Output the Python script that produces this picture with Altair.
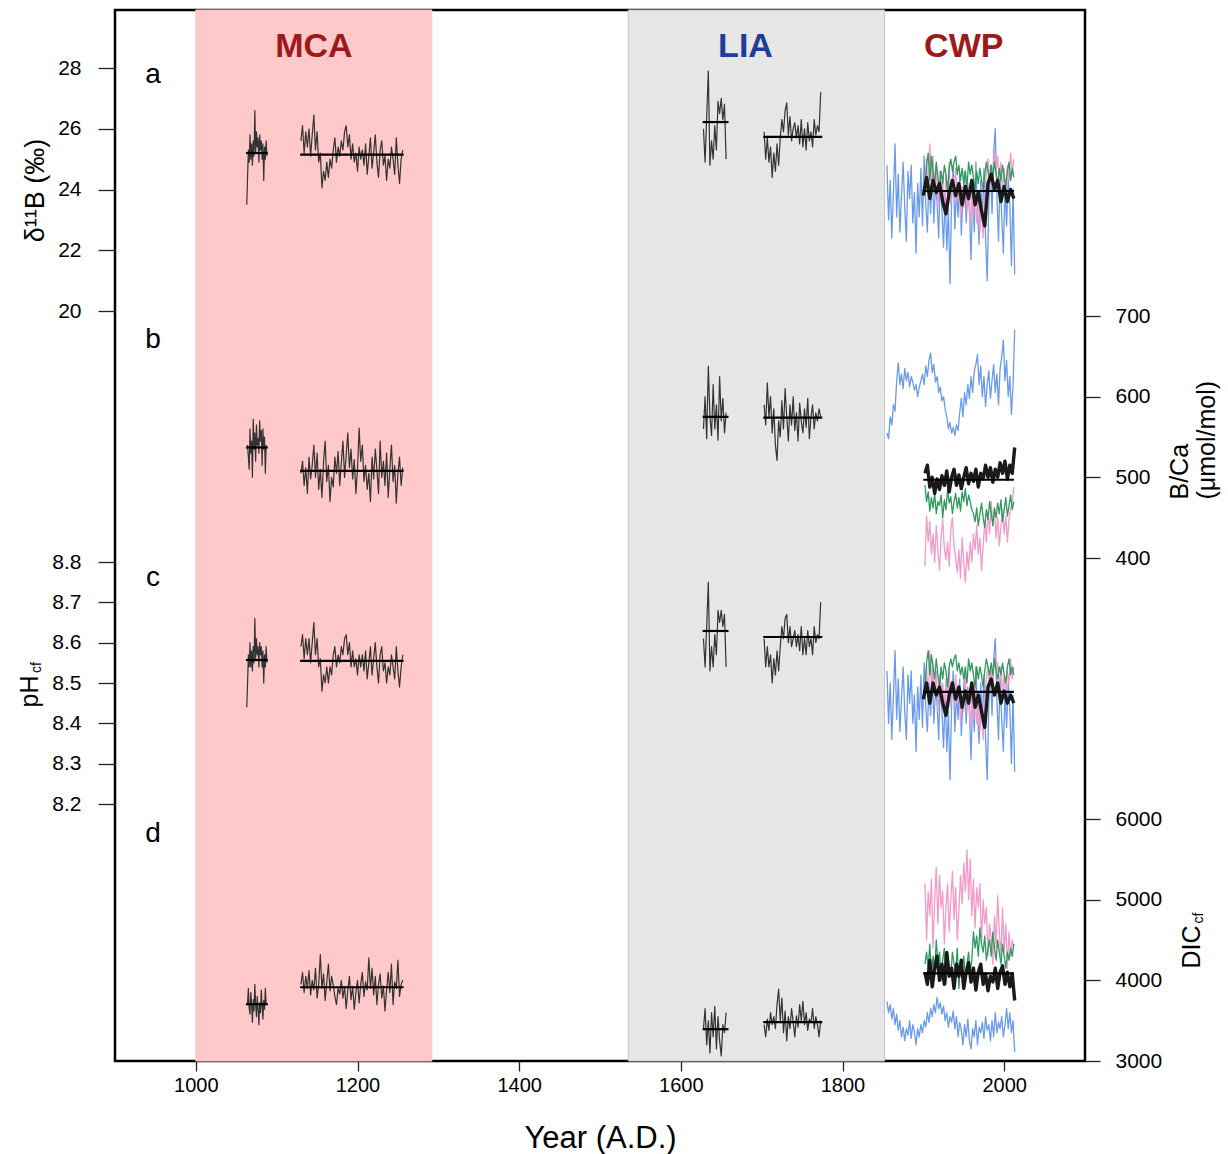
import altair as alt
import pandas as pd

FONT = "Liberation Sans"

# ---------------- x axis / periods ----------------
year_ticks = [1000, 1200, 1400, 1600, 1800, 2000]
period_start = [1000, 1535]
period_end = [1292, 1852]
period_fill = ["#FFC9C9", "#E6E6E6"]
period_stroke = ["#FFC9C9", "#C6C6C6"]

period_label = ["MCA", "LIA", "CWP"]
period_label_year = [1146, 1680, 1950]
period_label_color = ["#9E1A1A", "#1F3D99", "#9E1A1A"]
period_label_value = [28.69, 28.69, 28.69]

letter_year = 947
letter_value = {"a": 27.77, "b": 670, "c": 8.76, "d": 5815}

# segment mean lines
seg_x1 = [1062, 1129, 1627, 1702, 1900]
seg_x2 = [1089, 1257, 1659, 1775, 2012]
mean_d11b = [25.2, 25.15, 26.22, 25.73, 23.95]
mean_bca = [537, 508, 575, 574, 497]
mean_ph = [8.557, 8.555, 8.629, 8.614, 8.478]
mean_dic = [3704, 3914, 3394, 3481, 4086]

# ---------------- panel a: d11B ----------------
d11b_mca1 = [23.5, 24.4, 25.3, 24.9, 25.8, 25.0, 25.5, 24.8, 25.6, 25.1, 26.6, 25.2, 25.9,
             25.4, 25.7, 24.9, 25.8, 25.3, 25.6, 25.0, 25.5, 24.3, 25.4, 25.0, 25.6, 25.1]
d11b_mca2 = [25.6, 26.1, 25.2, 25.9, 25.4, 26.0, 25.1, 25.8, 26.45, 25.3, 25.9, 24.9, 25.2,
             24.05, 24.6, 24.3, 24.9, 24.4, 25.0, 24.7, 25.3, 25.7, 24.9, 25.4, 25.1, 25.6,
             25.3, 25.9, 26.1, 25.4, 25.8, 25.0, 25.5, 24.9, 25.2, 24.6, 25.4, 25.0, 25.3,
             24.8, 25.5, 24.5, 25.1, 25.7, 24.7, 25.2, 25.8, 24.9, 24.4, 25.3, 25.6, 24.8,
             25.1, 24.3, 25.0, 24.7, 25.4, 25.0, 24.5, 25.7, 24.8, 24.2, 25.0, 25.3]
d11b_lia1 = [26.0, 24.9, 26.4, 27.9, 24.8, 25.6, 25.0, 26.1, 25.3, 26.9, 26.5, 27.0, 26.3, 26.8, 25.0]
d11b_lia2 = [25.9, 25.0, 25.7, 24.9, 25.4, 24.4, 25.2, 24.6, 25.5, 24.8, 25.7, 26.3, 25.9,
             26.6, 26.85, 25.8, 26.4, 25.6, 26.0, 26.2, 25.7, 26.1, 25.5, 26.3, 25.4, 26.0,
             25.3, 26.2, 25.6, 25.9, 25.4, 26.3, 25.8, 26.1, 25.9, 27.2]
d11b_blue = [24.8, 23.0, 24.3, 22.4, 23.9, 25.5, 23.1, 24.5, 22.6, 23.8, 24.9, 23.4, 22.3,
             24.6, 23.7, 24.8, 22.9, 23.9, 21.9, 24.2, 23.1, 24.7, 22.8, 25.1, 23.5, 22.6,
             24.4, 23.2, 24.9, 22.9, 24.1, 23.6, 22.4, 24.6, 23.3, 22.1, 23.9, 22.0, 23.4,
             20.9, 23.7, 24.8, 22.7, 24.0, 23.1, 24.5, 22.5, 23.8, 24.6, 22.9, 24.2, 23.3,
             21.7, 24.0, 22.6, 24.9, 23.4, 22.2, 24.3, 23.0, 24.7, 22.4, 21.0, 23.6, 24.8,
             23.2, 25.2, 26.0, 23.8, 22.3, 24.5, 23.1, 21.9, 24.1, 22.8, 24.4, 23.5, 21.5,
             24.0, 21.2]
d11b_black = [23.8, 24.4, 23.7, 24.3, 23.9, 24.2, 23.6, 23.2, 23.9, 24.3, 23.8, 24.2, 23.5,
              24.1, 23.7, 24.3, 23.5, 23.9, 23.3, 22.8, 24.2, 24.5, 24.0, 24.3, 23.6, 24.1,
              23.6, 24.0, 23.7]
d11b_green = [24.0, 24.8, 25.2, 24.3, 25.1, 24.6, 24.2, 24.9, 24.4, 24.0, 24.6, 24.2, 24.8,
              24.5, 23.9, 24.7, 25.0, 24.6, 24.9, 25.1, 24.5, 24.8, 24.3, 24.7, 24.2, 24.6,
              24.1, 24.9, 24.5, 24.8, 24.4, 24.0, 24.6, 24.2, 24.7, 24.3, 24.0, 24.5, 24.9,
              24.6, 24.3, 24.8, 24.4, 24.9, 24.5, 24.2, 24.7, 24.3, 24.8, 24.4, 24.1, 24.6,
              24.9, 24.3, 24.7, 24.4]
d11b_pink = [24.1, 25.0, 23.6, 25.5, 24.2, 25.1, 23.9, 24.8, 23.4, 24.6, 23.7, 24.3, 23.2,
             24.5, 23.8, 24.9, 23.5, 24.4, 23.9, 24.7, 23.6, 24.2, 23.0, 24.1, 23.4, 24.6,
             23.3, 24.0, 22.8, 23.9, 23.1, 24.3, 22.9, 23.7, 22.6, 23.5, 22.4, 23.8, 24.5,
             25.0, 24.1, 24.8, 24.3, 25.3, 24.6, 25.1, 24.2, 24.9, 23.9, 24.7, 24.0, 24.8,
             24.3, 25.2, 24.5, 25.0]

# ---------------- panel b: B/Ca ----------------
bca_mca1 = [540, 525, 510, 560, 530, 545, 500, 572, 535, 555, 520, 565, 540, 548, 530, 570,
            545, 558, 515, 560, 535, 550, 505, 540]
bca_mca2 = [505, 520, 490, 512, 480, 525, 498, 515, 540, 500, 530, 485, 510, 475, 520, 545,
            495, 515, 470, 500, 488, 525, 505, 532, 490, 518, 545, 500, 528, 555, 512, 535,
            498, 522, 480, 510, 561, 520, 540, 495, 515, 485, 505, 470, 525, 498, 535, 510,
            480, 545, 500, 520, 490, 530, 475, 510, 540, 495, 515, 468, 505, 525, 490, 512]
bca_lia1 = [560, 600, 548, 638, 575, 552, 615, 560, 590, 546, 625, 570, 598, 555, 580]
bca_lia2 = [590, 565, 617, 575, 600, 555, 585, 540, 521, 570, 550, 595, 560, 610, 575, 545,
            590, 565, 600, 558, 580, 545, 592, 570, 555, 585, 562, 598, 548, 575, 590, 560,
            580, 570, 585, 575]
bca_blue = [555, 548, 575, 565, 590, 582, 620, 642, 615, 628, 610, 635, 620, 630, 612, 625,
            618, 608, 615, 600, 612, 620, 628, 615, 638, 625, 645, 654, 630, 640, 618, 625,
            605, 612, 595, 600, 585, 575, 560, 568, 555, 562, 552, 565, 558, 580, 598, 575,
            605, 590, 615, 598, 625, 605, 632, 640, 652, 615, 638, 600, 625, 588, 615, 632,
            598, 620, 640, 605, 628, 590, 635, 650, 670, 620, 645, 600, 625, 578, 615, 683]
bca_black = [505, 515, 488, 500, 480, 498, 485, 502, 490, 508, 482, 500, 510, 490, 503, 486,
             500, 512, 492, 505, 495, 510, 488, 505, 498, 515, 500, 512, 494, 510, 500, 518,
             505, 520, 498, 515, 505, 537]
bca_green = [490, 470, 482, 458, 475, 462, 480, 455, 470, 465, 478, 450, 472, 460, 485, 468,
             476, 455, 470, 480, 462, 475, 458, 482, 470, 486, 465, 478, 470, 460, 455, 445,
             462, 440, 455, 468, 450, 438, 460, 448, 470, 455, 440, 462, 450, 468, 455, 472,
             445, 460, 475, 452, 465, 478, 460, 470]
bca_pink = [390, 452, 420, 445, 405, 430, 395, 440, 410, 385, 425, 448, 412, 398, 420, 390,
            435, 450, 415, 400, 382, 410, 375, 425, 395, 370, 408, 385, 420, 395, 430, 410,
            440, 405, 425, 385, 415, 445, 420, 458, 430, 470, 440, 462, 425, 450, 415, 440,
            460, 430, 452, 420, 448, 462, 470, 488]

# ---------------- panel c: pH_cf ----------------
ph_mca1 = [8.44, 8.50, 8.57, 8.54, 8.60, 8.54, 8.58, 8.53, 8.59, 8.55, 8.66, 8.56, 8.61,
           8.57, 8.59, 8.54, 8.60, 8.57, 8.59, 8.54, 8.58, 8.50, 8.57, 8.54, 8.59, 8.55]
ph_mca2 = [8.59, 8.62, 8.56, 8.61, 8.57, 8.61, 8.55, 8.60, 8.65, 8.57, 8.61, 8.54, 8.56,
           8.48, 8.52, 8.50, 8.54, 8.50, 8.54, 8.52, 8.57, 8.59, 8.54, 8.57, 8.55, 8.59,
           8.57, 8.61, 8.62, 8.57, 8.60, 8.54, 8.58, 8.54, 8.56, 8.52, 8.57, 8.54, 8.57,
           8.53, 8.58, 8.51, 8.55, 8.59, 8.52, 8.56, 8.60, 8.54, 8.50, 8.57, 8.59, 8.53,
           8.55, 8.50, 8.54, 8.52, 8.57, 8.54, 8.51, 8.59, 8.53, 8.49, 8.54, 8.57]
ph_lia1 = [8.61, 8.54, 8.64, 8.75, 8.53, 8.59, 8.54, 8.62, 8.57, 8.68, 8.65, 8.68, 8.64, 8.67, 8.54]
ph_lia2 = [8.61, 8.54, 8.59, 8.54, 8.57, 8.50, 8.56, 8.52, 8.58, 8.53, 8.59, 8.64, 8.61,
           8.66, 8.67, 8.60, 8.64, 8.59, 8.61, 8.63, 8.59, 8.62, 8.58, 8.64, 8.57, 8.61,
           8.57, 8.63, 8.59, 8.61, 8.57, 8.64, 8.60, 8.62, 8.61, 8.70]
ph_blue = [8.53, 8.40, 8.50, 8.36, 8.47, 8.58, 8.41, 8.51, 8.38, 8.46, 8.54, 8.43, 8.36,
           8.52, 8.45, 8.53, 8.40, 8.47, 8.33, 8.49, 8.41, 8.52, 8.39, 8.55, 8.44, 8.38,
           8.50, 8.42, 8.54, 8.40, 8.48, 8.45, 8.36, 8.52, 8.43, 8.34, 8.47, 8.33, 8.43,
           8.26, 8.45, 8.53, 8.38, 8.47, 8.41, 8.51, 8.37, 8.46, 8.52, 8.40, 8.49, 8.43,
           8.31, 8.47, 8.38, 8.54, 8.43, 8.35, 8.50, 8.40, 8.52, 8.36, 8.26, 8.45, 8.53,
           8.42, 8.56, 8.61, 8.46, 8.36, 8.51, 8.41, 8.33, 8.48, 8.39, 8.50, 8.44, 8.30,
           8.47, 8.28]
ph_black = [8.46, 8.50, 8.45, 8.50, 8.47, 8.49, 8.45, 8.42, 8.47, 8.50, 8.46, 8.49, 8.44,
            8.48, 8.45, 8.50, 8.44, 8.47, 8.43, 8.39, 8.49, 8.51, 8.47, 8.50, 8.45, 8.48,
            8.45, 8.47, 8.45]
ph_green = [8.49, 8.55, 8.58, 8.52, 8.57, 8.54, 8.51, 8.56, 8.52, 8.49, 8.54, 8.51, 8.55,
            8.53, 8.49, 8.54, 8.56, 8.54, 8.56, 8.57, 8.53, 8.55, 8.52, 8.54, 8.51, 8.54,
            8.50, 8.56, 8.53, 8.55, 8.52, 8.49, 8.54, 8.51, 8.54, 8.52, 8.49, 8.53, 8.56,
            8.54, 8.52, 8.55, 8.52, 8.56, 8.53, 8.51, 8.54, 8.52, 8.55, 8.52, 8.50, 8.54,
            8.56, 8.52, 8.54, 8.52]
ph_pink = [8.48, 8.54, 8.45, 8.58, 8.49, 8.55, 8.47, 8.53, 8.43, 8.52, 8.45, 8.50, 8.42,
           8.51, 8.46, 8.54, 8.44, 8.50, 8.47, 8.52, 8.45, 8.49, 8.40, 8.48, 8.43, 8.52,
           8.43, 8.47, 8.39, 8.47, 8.41, 8.50, 8.40, 8.45, 8.38, 8.44, 8.36, 8.46, 8.51,
           8.54, 8.48, 8.53, 8.50, 8.57, 8.52, 8.55, 8.49, 8.54, 8.47, 8.52, 8.47, 8.53,
           8.50, 8.56, 8.51, 8.54]

# ---------------- panel d: DIC_cf ----------------
dic_mca1 = [3720, 3900, 3650, 3580, 3850, 3700, 3480, 3760, 3620, 3950, 3700, 3550, 3800,
            3640, 3450, 3720, 3600, 3880, 3680, 3520, 3750, 3640, 3900, 3700]
dic_mca2 = [3950, 4100, 3850, 4050, 3900, 4120, 3820, 4000, 3880, 4150, 3780, 3950, 4320,
            3900, 4080, 3750, 3980, 4200, 3870, 4050, 3940, 3800, 3700, 3900, 3830, 4000,
            3780, 3920, 3650, 3880, 4050, 3760, 3920, 3640, 3850, 4000, 3720, 3950, 4100,
            3800, 3980, 3880, 4280, 3900, 4150, 3820, 4050, 3700, 3950, 4080, 3780, 3930,
            3620, 3880, 4100, 3850, 4200, 3700, 3980, 3900, 4250, 3800, 3950, 4000]
dic_lia1 = [3400, 3650, 3200, 3500, 3100, 3600, 3300, 3679, 3150, 3550, 3250, 3062, 3450, 3350, 3600]
dic_lia2 = [3450, 3300, 3520, 3380, 3600, 3450, 3550, 3400, 3700, 3890, 3500, 3780, 3350,
            3620, 3250, 3550, 3400, 3650, 3480, 3300, 3560, 3420, 3700, 3500, 3740, 3450,
            3600, 3380, 3520, 3480, 3650, 3400, 3550, 3450, 3300, 3500]
dic_blue = [3740, 3600, 3700, 3520, 3650, 3450, 3580, 3380, 3500, 3300, 3420, 3250, 3400,
            3320, 3500, 3280, 3450, 3360, 3200, 3400, 3300, 3450, 3350, 3500, 3420, 3600,
            3480, 3650, 3550, 3700, 3600, 3790, 3650, 3720, 3580, 3680, 3500, 3600, 3420,
            3550, 3480, 3620, 3400, 3550, 3300, 3480, 3380, 3200, 3450, 3300, 3520, 3250,
            3150, 3400, 3300, 3500, 3200, 3420, 3350, 3480, 3280, 3550, 3380, 3450, 3250,
            3500, 3300, 3600, 3350, 3480, 3400, 3550, 3300, 3450, 3650, 3400, 3600, 3350,
            3500, 3110]
dic_black = [4100, 3950, 4250, 3920, 4150, 4300, 4000, 4200, 3950, 4346, 4050, 4150, 3900,
             4200, 4050, 4250, 3900, 4100, 4220, 3980, 4150, 3880, 4100, 4200, 3950, 4080,
             3870, 4050, 3980, 4150, 3900, 4100, 4180, 3950, 4100, 3920, 4080, 3750]
dic_green = [4200, 4350, 4150, 4450, 4050, 4300, 4100, 4500, 4200, 4350, 4000, 4250, 4400,
             3950, 4300, 4150, 4050, 4350, 4200, 4100, 4400, 3900, 4250, 4150, 4300, 4050,
             4200, 4350, 4100, 4250, 4600, 4400, 4550, 4300, 4650, 4450, 4350, 4550, 4250,
             4400, 4500, 4300, 4600, 4400, 4250, 4500, 4350, 4200, 4450, 4300, 4150, 4350,
             4250, 4400, 4300, 4450]
dic_pink = [5200, 4500, 5100, 4800, 5250, 4400, 5000, 5400, 4700, 5300, 4900, 5100, 4450,
            4900, 5200, 4600, 5000, 5350, 4750, 5150, 4500, 4850, 5300, 4950, 5450, 5100,
            5617, 5000, 5500, 4800, 5250, 4650, 5150, 4900, 5200, 4450, 5000, 4700, 4900,
            4300, 4700, 4500, 4200, 4800, 4400, 5050, 4600, 4300, 4900, 4350, 4700, 4150,
            4600, 4300, 4500, 4400]

# ---------------- build tables ----------------
panel_series = {
    "a": [d11b_mca1, d11b_mca2, d11b_lia1, d11b_lia2, d11b_blue, d11b_black, d11b_green, d11b_pink],
    "b": [bca_mca1, bca_mca2, bca_lia1, bca_lia2, bca_blue, bca_black, bca_green, bca_pink],
    "c": [ph_mca1, ph_mca2, ph_lia1, ph_lia2, ph_blue, ph_black, ph_green, ph_pink],
    "d": [dic_mca1, dic_mca2, dic_lia1, dic_lia2, dic_blue, dic_black, dic_green, dic_pink],
}
series_kind = ["hist", "hist", "hist", "hist", "blue", "black", "green", "pink"]
series_start = {"a": [1063, 1130, 1628, 1703, 1855, 1900, 1902, 1902],
                "b": [1064, 1130, 1628, 1703, 1855, 1902, 1902, 1902],
                "c": [1063, 1130, 1628, 1703, 1855, 1900, 1902, 1902],
                "d": [1064, 1130, 1628, 1703, 1855, 1902, 1902, 1902]}
series_step = {"a": [1, 2, 2, 2, 2, 4, 2, 2],
               "b": [1, 2, 2, 2, 2, 3, 2, 2],
               "c": [1, 2, 2, 2, 2, 4, 2, 2],
               "d": [1, 2, 2, 2, 2, 3, 2, 2]}

rows = []
for p, lists in panel_series.items():
    for i, vals in enumerate(lists):
        for k, v in enumerate(vals):
            rows.append({"panel": p, "series": series_kind[i], "seg": f"{p}{i}",
                         "year": series_start[p][i] + k * series_step[p][i], "value": v})
df = pd.DataFrame(rows)

means = {"a": mean_d11b, "b": mean_bca, "c": mean_ph, "d": mean_dic}

xscale = alt.Scale(domain=[900, 2100], nice=False, zero=False)
x_axis = alt.Axis(values=year_ticks, format="d", title="Year (A.D.)", grid=False,
                  domain=False, tickSize=10, tickColor="#222222", tickWidth=1.3,
                  labelPadding=4, labelFontSize=20, labelFont=FONT,
                  labelColor="black", titleFont=FONT, titleFontSize=31,
                  titleFontWeight="normal", titleColor="black",
                  titleBaseline="alphabetic", titleY=86)


def X(field):
    return alt.X(field, scale=xscale, axis=x_axis)


common_axis = dict(grid=False, domain=False, tickColor="#222222", tickWidth=1.3,
                   labelFontSize=21, labelFont=FONT, labelColor="black",
                   titleFont=FONT, titleFontWeight="normal",
                   titleColor="black", titleAngle=270, titleBaseline="alphabetic")

scales = {
    "a": alt.Scale(domain=[20, 28], range=[301, 58], nice=False, zero=False),
    "b": alt.Scale(domain=[400, 700], range=[548, 306], nice=False, zero=False),
    "c": alt.Scale(domain=[8.2, 8.8], range=[794, 552], nice=False, zero=False),
    "d": alt.Scale(domain=[3000, 6000], range=[1051, 809], nice=False, zero=False),
}
axes = {
    "a": alt.Axis(orient="left", values=[20, 22, 24, 26, 28], title="δ¹¹B (‰)",
                  tickSize=17, labelPadding=17, titleAlign="center", titleX=-72, titleY=180,
                  titleFontSize=27, **common_axis),
    "b": alt.Axis(orient="right", values=[400, 500, 600, 700], title=["B/Ca", "(μmol/mol)"],
                  tickSize=15, labelPadding=15, titleAlign="left", titleX=102, titleY=489,
                  titleLineHeight=27, titleFontSize=25, **common_axis),
    "c": alt.Axis(orient="left", values=[8.2, 8.3, 8.4, 8.5, 8.6, 8.7, 8.8], format=".1f",
                  title="pH", tickSize=17, labelPadding=17, titleAlign="left",
                  titleX=-78, titleY=697, titleFontSize=25, **common_axis),
    "d": alt.Axis(orient="right", values=[3000, 4000, 5000, 6000], format="d", title="DIC",
                  tickSize=15, labelPadding=15, titleAlign="left", titleX=114, titleY=958,
                  titleFontSize=25, **common_axis),
}

colors = {"blue": "#6A9BEA", "pink": "#F29AC9", "green": "#2E9A5E", "black": "#1A1A1A"}


def make_panel(p, extra=None):
    data = df[df.panel == p]

    def Y(field):
        return alt.Y(field, scale=scales[p], axis=axes[p])

    hist = alt.Chart(data[data.series == "hist"]).mark_line(
        color="#333333", strokeWidth=1.2, strokeJoin="round").encode(
        x=X("year:Q"), y=Y("value:Q"), detail="seg:N")
    layers = [hist]
    for s in ["blue", "pink", "green", "black"]:
        layers.append(alt.Chart(data[data.series == s]).mark_line(
            color=colors[s], strokeWidth=3.4 if s == "black" else 1.3,
            strokeJoin="round").encode(x=X("year:Q"), y=Y("value:Q")))
    mdf = pd.DataFrame({"x1": seg_x1, "x2": seg_x2, "value": means[p]})
    layers.append(alt.Chart(mdf).mark_rule(color="black", strokeWidth=2.2).encode(
        x=X("x1:Q"), x2="x2:Q", y=Y("value:Q")))
    ldf = pd.DataFrame({"year": [letter_year], "value": [letter_value[p]], "t": [p]})
    layers.append(alt.Chart(ldf).mark_text(font=FONT, fontSize=28, color="black",
                                           baseline="middle").encode(
        x=X("year:Q"), y=Y("value:Q"), text="t:N"))
    if extra is not None:
        layers.append(extra(Y))
    return alt.layer(*layers)


def period_labels(Y):
    pdf = pd.DataFrame({"year": period_label_year, "value": period_label_value,
                        "t": period_label, "c": period_label_color})
    return alt.Chart(pdf).mark_text(font=FONT, fontSize=34, fontWeight="bold",
                                    baseline="middle").encode(
        x=X("year:Q"), y=Y("value:Q"), text="t:N",
        color=alt.Color("c:N", scale=None))


def sub_cf(year, value):
    def f(Y):
        sdf = pd.DataFrame({"year": [year], "value": [value], "t": ["cf"]})
        return alt.Chart(sdf).mark_text(font=FONT, fontSize=14, color="black", angle=270,
                                        align="left", baseline="alphabetic").encode(
            x=X("year:Q"), y=Y("value:Q"), text="t:N")
    return f


shade_df = pd.DataFrame({"year": period_start, "end": period_end,
                         "fill": period_fill, "stroke": period_stroke})
shade = alt.Chart(shade_df).mark_rect(strokeWidth=1).encode(
    x=X("year:Q"),
    x2="end:Q",
    color=alt.Color("fill:N", scale=None),
    stroke=alt.Stroke("stroke:N", scale=None),
)

chart = alt.layer(
    shade,
    make_panel("a", period_labels),
    make_panel("b"),
    make_panel("c", sub_cf(808.5, 8.525)),
    make_panel("d", sub_cf(2246, 4704)),
).resolve_scale(y="independent").properties(
    width=970, height=1051, autosize="none",
    padding={"left": 115, "top": 10, "right": 143, "bottom": 93},
).configure_view(stroke="black", strokeWidth=2.5)

chart.save("out.html", embed_options={"renderer": "svg", "actions": False})
